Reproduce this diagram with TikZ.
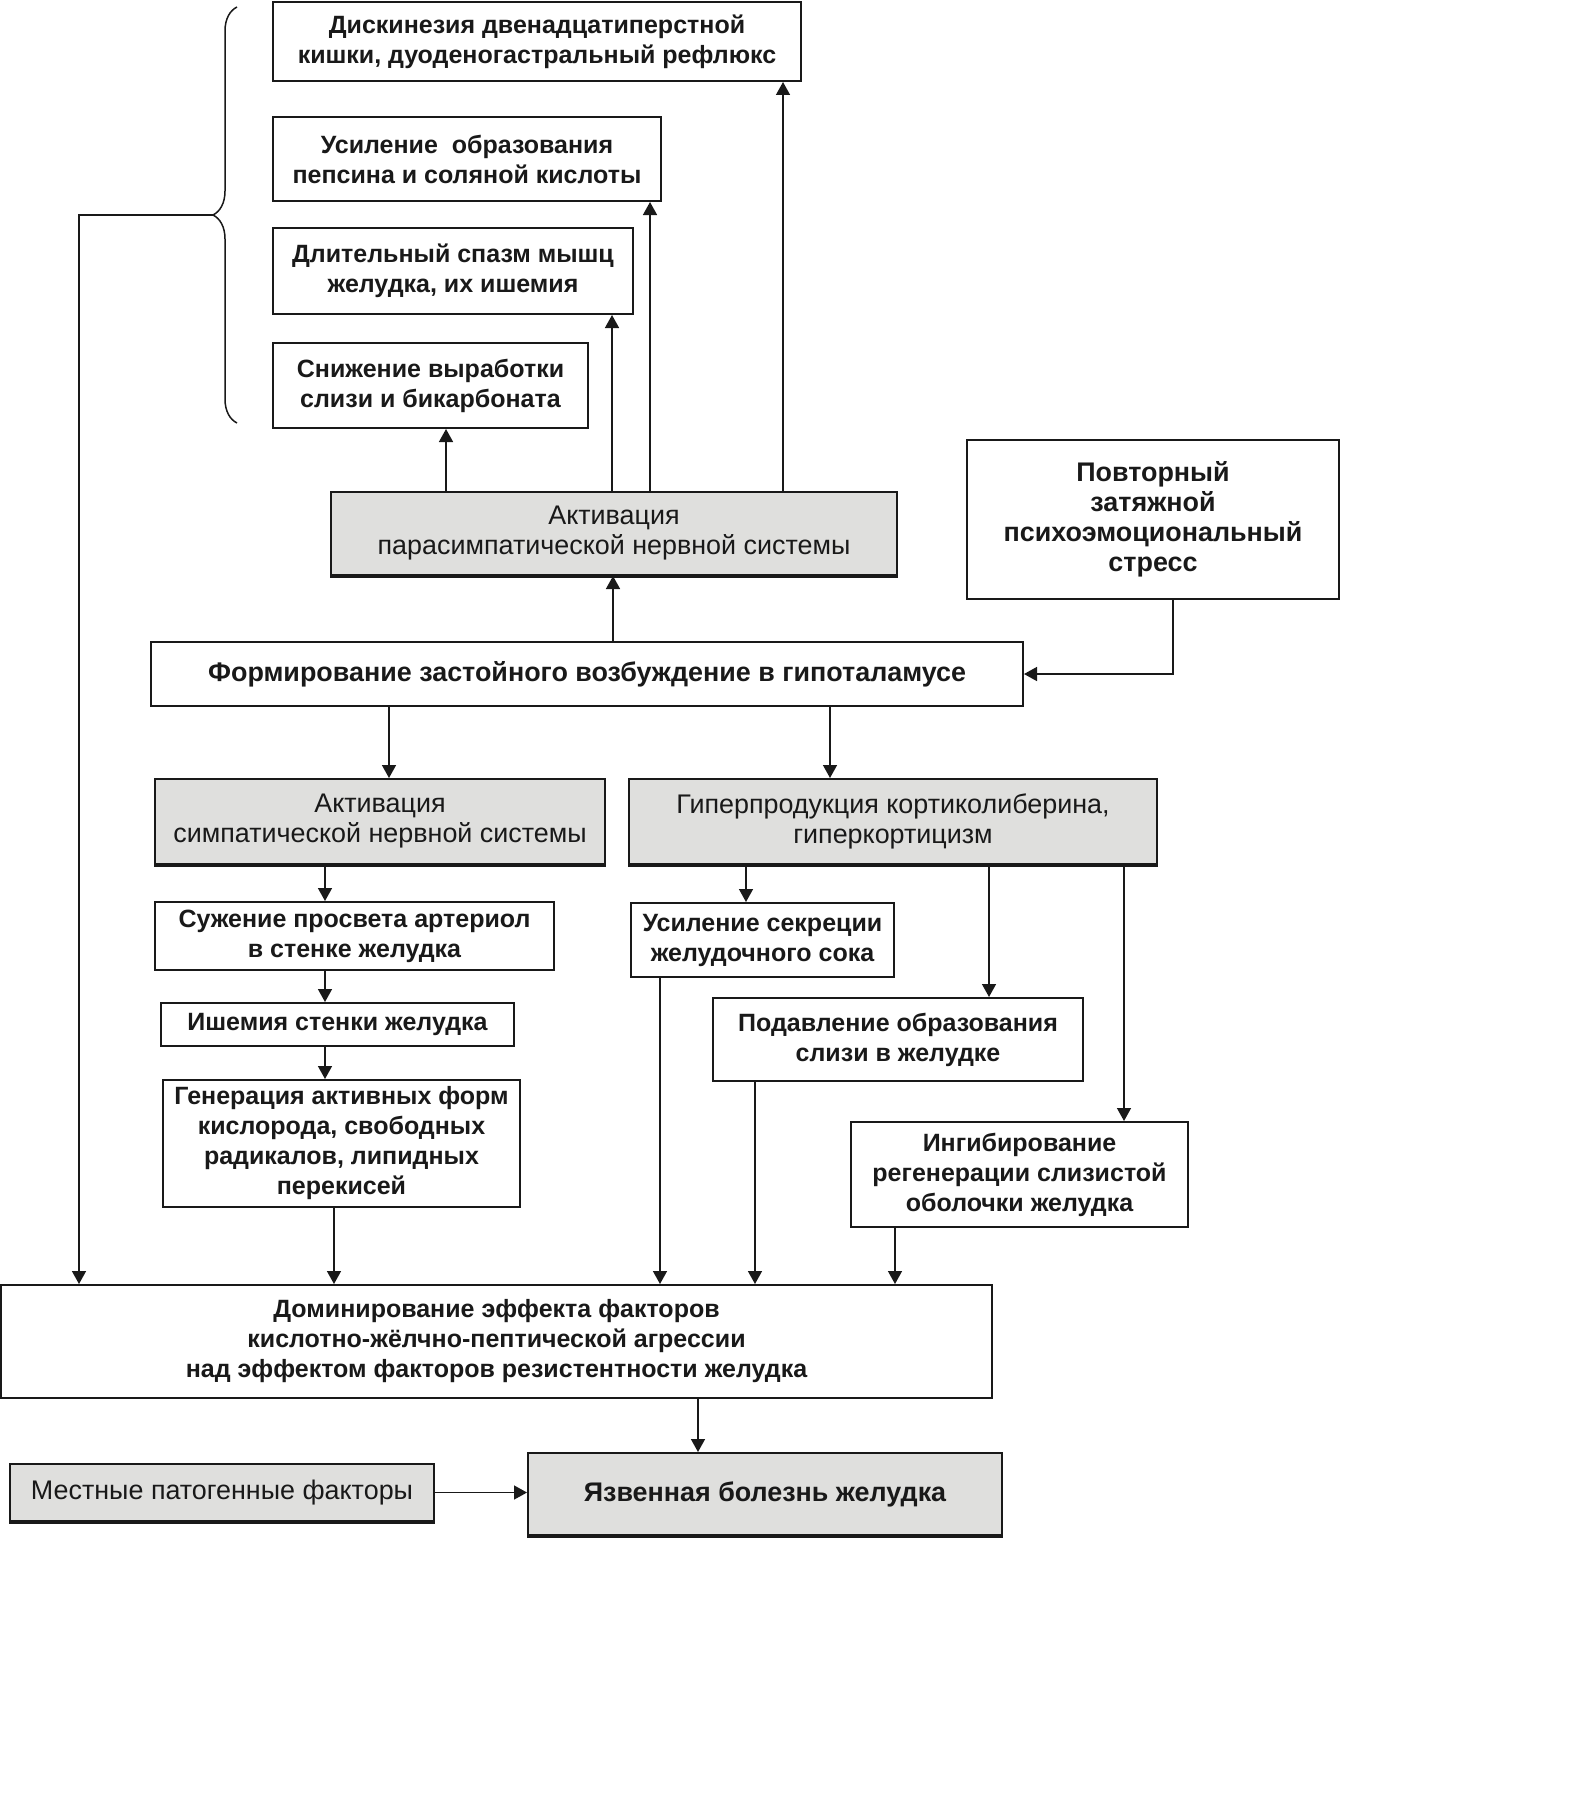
\documentclass[tikz,border=0pt]{standalone}
\usepackage{fontspec}
\setmainfont{Liberation Sans}
\usetikzlibrary{arrows.meta,decorations.pathreplacing}
\definecolor{boxgray}{RGB}{223,223,221}
\definecolor{ink}{RGB}{25,25,25}
\newcommand{\fsz}{\fontsize{12.5pt}{15pt}\selectfont}
\newcommand{\fbig}{\fontsize{13.45pt}{15pt}\selectfont}
\tikzset{
  bx/.style={draw=ink, line width=1pt, inner sep=0pt, align=center, text=ink, font=\fsz\bfseries},
  bbx/.style={bx, font=\fbig\bfseries},
  gbx/.style={bx, fill=boxgray, font=\fbig},
  arr/.style={draw=ink, line width=0.75pt, -{Triangle[length=6.5pt,width=7pt]}},
  ln/.style={draw=ink, line width=0.75pt},
  shade/.style={draw=ink, line width=1.6pt},
}
\begin{document}
\begin{tikzpicture}[x=0.5pt,y=-0.5pt]
\useasboundingbox (0,0) rectangle (1575,1814);

% column helpers
\foreach \c in {79,325,334,389,446,612,613,650,660,698,746,755,783,830,895,989,1124,1173}
  {\coordinate (x\c) at (\c,0);}

% boxes
\node[bx, minimum width=264pt, minimum height=39.5pt] (b1) at (537,41.5)
  {Дискинезия двенадцатиперстной\\кишки, дуоденогастральный рефлюкс};
\node[bx, minimum width=194pt, minimum height=42pt] (b2) at (467,159)
  {Усиление~ образования\\пепсина и соляной кислоты};
\node[bx, minimum width=180pt, minimum height=43pt] (b3) at (453,271)
  {Длительный спазм мышц\\желудка, их ишемия};
\node[bx, minimum width=157.5pt, minimum height=42.5pt] (b4) at (430.5,385.5)
  {Снижение выработки\\слизи и бикарбоната};
\node[gbx, minimum width=283pt, minimum height=41.5pt] (para) at (614,533.5)
  {Активация\\парасимпатической нервной системы};
\node[bbx, minimum width=186pt, minimum height=79.5pt] (stress) at (1153,519.5)
  {Повторный\\затяжной\\психоэмоциональный\\стресс};
\node[bbx, minimum width=436pt, minimum height=32pt] (form) at (587,674)
  {Формирование застойного возбуждение в гипоталамусе};
\node[gbx, minimum width=225pt, minimum height=42.5pt] (symp) at (380,821.5)
  {Активация\\симпатической нервной системы};
\node[gbx, minimum width=264pt, minimum height=42.5pt] (hyper) at (893,821.5)
  {Гиперпродукция кортиколиберина,\\гиперкортицизм};
\node[bx, minimum width=199.5pt, minimum height=34pt] (suzh) at (354.5,936)
  {Сужение просвета артериол\\в стенке желудка};
\node[bx, minimum width=176.5pt, minimum height=21.5pt] (ishem) at (337.5,1024.5)
  {Ишемия стенки желудка};
\node[bx, minimum width=178.5pt, minimum height=63.5pt] (gener) at (341.5,1143.5)
  {Генерация активных форм\\кислорода, свободных\\радикалов, липидных\\перекисей};
\node[bx, minimum width=131.5pt, minimum height=37pt] (secr) at (762.5,940)
  {Усиление секреции\\желудочного сока};
\node[bx, minimum width=185pt, minimum height=41.5pt] (podav) at (898,1039.5)
  {Подавление образования\\слизи в желудке};
\node[bx, minimum width=168.5pt, minimum height=52.5pt] (ingib) at (1019.5,1174.5)
  {Ингибирование\\регенерации слизистой\\оболочки желудка};
\node[bx, minimum width=495.5pt, minimum height=56.5pt] (domin) at (496.5,1341.5)
  {Доминирование эффекта факторов\\кислотно-жёлчно-пептической агрессии\\над эффектом факторов резистентности желудка};
\node[gbx, font=\fbig\bfseries, minimum width=237pt, minimum height=41pt] (yazv) at (765,1494)
  {Язвенная болезнь желудка};
\node[gbx, minimum width=212pt, minimum height=28.5pt] (mest) at (222,1492.5)
  {Местные патогенные факторы};

% heavier bottom edges of the grey boxes
\foreach \n in {para,symp,hyper,yazv,mest}
  {\draw[shade] (\n.south west) -- (\n.south east);}

% brace
\draw[ln, decorate, decoration={brace, amplitude=12pt}] (237,423) -- (237,7);
\coordinate (tip) at (213,215);

% connectors
\draw[arr] (para.north -| x446) -- (b4.south -| x446);
\draw[arr] (para.north -| x612) -- (b3.south -| x612);
\draw[arr] (para.north -| x650) -- (b2.south -| x650);
\draw[arr] (para.north -| x783) -- (b1.south -| x783);
\draw[arr] (form.north -| x613) -- (para.south -| x613);
\draw[arr] (stress.south -| x1173) |- (form.east);
\draw[arr] (form.south -| x389) -- (symp.north -| x389);
\draw[arr] (form.south -| x830) -- (hyper.north -| x830);
\draw[arr] (symp.south -| x325) -- (suzh.north -| x325);
\draw[arr] (suzh.south -| x325) -- (ishem.north -| x325);
\draw[arr] (ishem.south -| x325) -- (gener.north -| x325);
\draw[arr] (hyper.south -| x746) -- (secr.north -| x746);
\draw[arr] (hyper.south -| x989) -- (podav.north -| x989);
\draw[arr] (hyper.south -| x1124) -- (ingib.north -| x1124);
\draw[arr] (tip) -| (domin.north -| x79);
\draw[arr] (gener.south -| x334) -- (domin.north -| x334);
\draw[arr] (secr.south -| x660) -- (domin.north -| x660);
\draw[arr] (podav.south -| x755) -- (domin.north -| x755);
\draw[arr] (ingib.south -| x895) -- (domin.north -| x895);
\draw[arr] (domin.south -| x698) -- (yazv.north -| x698);
\draw[arr] (mest.east) -- (yazv.west |- mest.east);
\end{tikzpicture}
\end{document}
